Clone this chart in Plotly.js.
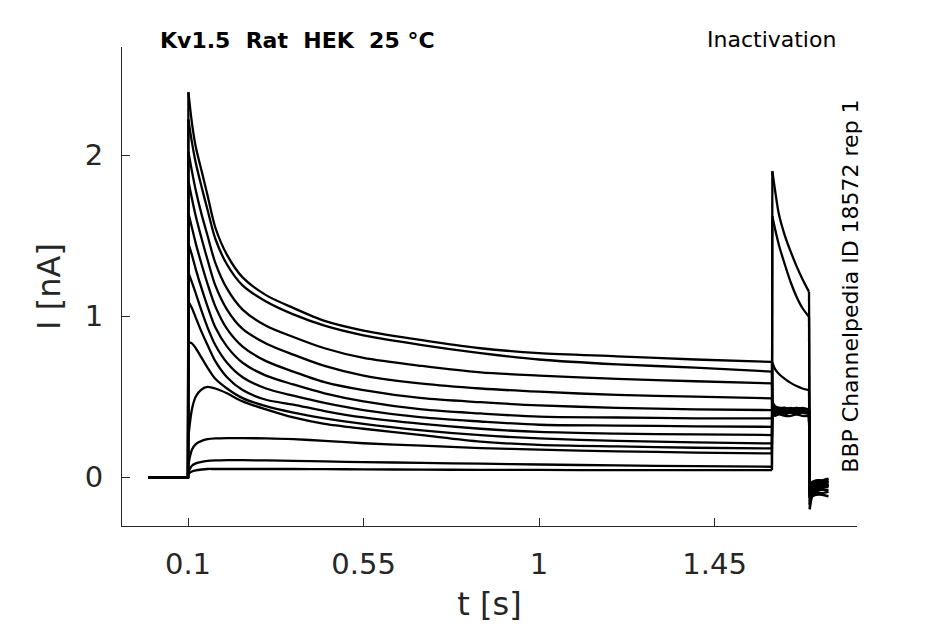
<!DOCTYPE html>
<html>
<head>
<meta charset="utf-8">
<script src="https://cdn.plot.ly/plotly-3.0.1.min.js"></script>
<style>
  html, body { margin: 0; padding: 0; background: #fff; }
  #chart { width: 945px; height: 624px; }
</style>
</head>
<body>
<div id="chart"></div>
<script>
// Kv1.5 inactivation protocol, current traces

// holding level before the prepulse
const baseT = [-0.002, 0.1];
const baseI = [0, 0];

// prepulse (0.1 s .. 1.597 s)
const preT = [0.101, 0.11, 0.12, 0.135, 0.15, 0.17, 0.2, 0.24, 0.3, 0.37, 0.45, 0.55, 0.7, 0.85, 1.0, 1.2, 1.4, 1.597];
const pre1  = [2.39, 2.20, 2.05, 1.90, 1.75, 1.55, 1.38, 1.24, 1.13, 1.05, 0.97, 0.91, 0.85, 0.80, 0.77, 0.75, 0.73, 0.715];
const pre2  = [2.22, 2.08, 1.95, 1.80, 1.66, 1.48, 1.32, 1.19, 1.09, 1.01, 0.94, 0.88, 0.82, 0.77, 0.73, 0.70, 0.68, 0.655];
const pre3  = [2.02, 1.90, 1.78, 1.63, 1.50, 1.33, 1.17, 1.04, 0.94, 0.87, 0.80, 0.74, 0.69, 0.65, 0.63, 0.61, 0.595, 0.582];
const pre4  = [1.84, 1.73, 1.62, 1.48, 1.35, 1.19, 1.04, 0.92, 0.83, 0.76, 0.69, 0.63, 0.58, 0.55, 0.53, 0.51, 0.50, 0.489];
const pre5  = [1.64, 1.55, 1.45, 1.32, 1.20, 1.06, 0.92, 0.81, 0.72, 0.655, 0.59, 0.54, 0.49, 0.465, 0.445, 0.43, 0.42, 0.416];
const pre6  = [1.45, 1.38, 1.29, 1.17, 1.06, 0.93, 0.81, 0.71, 0.63, 0.575, 0.52, 0.47, 0.42, 0.395, 0.375, 0.37, 0.365, 0.364];
const pre7  = [1.27, 1.21, 1.14, 1.03, 0.93, 0.82, 0.71, 0.62, 0.55, 0.505, 0.46, 0.415, 0.37, 0.345, 0.325, 0.32, 0.315, 0.312];
const pre8  = [1.09, 1.05, 0.99, 0.90, 0.82, 0.72, 0.62, 0.54, 0.48, 0.45, 0.41, 0.37, 0.33, 0.30, 0.28, 0.27, 0.265, 0.261];
const pre9  = [0.84, 0.83, 0.80, 0.74, 0.68, 0.61, 0.55, 0.49, 0.44, 0.40, 0.365, 0.33, 0.29, 0.26, 0.24, 0.225, 0.215, 0.209];
const pre10 = [0.25, 0.42, 0.50, 0.545, 0.56, 0.55, 0.52, 0.47, 0.42, 0.37, 0.33, 0.30, 0.26, 0.22, 0.20, 0.19, 0.182, 0.178];
const pre11 = [0.08, 0.17, 0.205, 0.225, 0.235, 0.24, 0.242, 0.242, 0.24, 0.235, 0.225, 0.21, 0.195, 0.18, 0.17, 0.16, 0.152, 0.147];
const pre12 = [0.03, 0.07, 0.085, 0.095, 0.10, 0.103, 0.105, 0.105, 0.103, 0.10, 0.097, 0.093, 0.088, 0.083, 0.078, 0.072, 0.068, 0.064];
const pre13 = [0.02, 0.035, 0.042, 0.047, 0.05, 0.05, 0.05, 0.05, 0.05, 0.05, 0.049, 0.048, 0.046, 0.045, 0.044, 0.043, 0.043, 0.043];

// test pulse (1.598 s .. 1.692 s)
const testT = [1.598, 1.605, 1.615, 1.63, 1.645, 1.66, 1.675, 1.692];
const test1  = [0.40, 0.39, 0.40, 0.39, 0.40, 0.39, 0.40, 0.39];
const test2  = [0.42, 0.41, 0.41, 0.42, 0.41, 0.41, 0.42, 0.41];
const test3  = [0.39, 0.38, 0.39, 0.38, 0.38, 0.39, 0.38, 0.38];
const test4  = [0.43, 0.42, 0.42, 0.41, 0.42, 0.42, 0.41, 0.42];
const test5  = [0.41, 0.40, 0.40, 0.41, 0.40, 0.40, 0.41, 0.40];
const test6  = [0.44, 0.43, 0.42, 0.43, 0.42, 0.43, 0.42, 0.42];
const test7  = [0.40, 0.41, 0.40, 0.40, 0.41, 0.40, 0.40, 0.41];
const test8  = [0.45, 0.43, 0.43, 0.42, 0.43, 0.42, 0.43, 0.42];
const test9  = [0.43, 0.42, 0.41, 0.42, 0.41, 0.42, 0.41, 0.41];
const test10 = [0.47, 0.44, 0.43, 0.43, 0.42, 0.43, 0.42, 0.42];
const test11 = [0.71, 0.67, 0.64, 0.61, 0.585, 0.565, 0.55, 0.54];
const test12 = [1.62, 1.54, 1.44, 1.32, 1.21, 1.12, 1.05, 0.995];
const test13 = [1.90, 1.78, 1.63, 1.50, 1.40, 1.31, 1.23, 1.15];

// tail after the test pulse (1.694 s .. 1.742 s)
const tailT = [1.694, 1.70, 1.71, 1.725, 1.742];
const tail1  = [-0.08, -0.06, -0.05, -0.04, -0.03];
const tail2  = [-0.10, -0.08, -0.06, -0.05, -0.04];
const tail3  = [-0.06, -0.04, -0.03, -0.02, -0.02];
const tail4  = [-0.11, -0.09, -0.08, -0.07, -0.06];
const tail5  = [-0.07, -0.05, -0.04, -0.03, -0.03];
const tail6  = [-0.12, -0.10, -0.09, -0.08, -0.08];
const tail7  = [-0.05, -0.03, -0.02, -0.02, -0.01];
const tail8  = [-0.13, -0.11, -0.10, -0.10, -0.09];
const tail9  = [-0.09, -0.07, -0.06, -0.05, -0.05];
const tail10 = [-0.13, -0.12, -0.11, -0.11, -0.12];
const tail11 = [-0.12, -0.09, -0.07, -0.06, -0.05];
const tail12 = [-0.17, -0.11, -0.08, -0.06, -0.05];
const tail13 = [-0.20, -0.12, -0.08, -0.06, -0.05];

const preSets  = [pre1, pre2, pre3, pre4, pre5, pre6, pre7, pre8, pre9, pre10, pre11, pre12, pre13];
const testSets = [test1, test2, test3, test4, test5, test6, test7, test8, test9, test10, test11, test12, test13];
const tailSets = [tail1, tail2, tail3, tail4, tail5, tail6, tail7, tail8, tail9, tail10, tail11, tail12, tail13];

const xTicks = [0.1, 0.55, 1, 1.45];
const xTickText = ['0.1', '0.55', '1', '1.45'];
const yTicks = [0, 1, 2];
const yTickText = ['0', '1', '2'];

const axisGrey = '#262626';
const font = 'DejaVu Sans, sans-serif';
const last = a => a[a.length - 1];

// each sweep: straight voltage-step jumps, smooth curves in between
function piece(x, y, shape) {
  return {
    x: x, y: y, mode: 'lines',
    line: shape === 'spline'
      ? { color: '#000', width: 2.3, shape: 'spline', smoothing: 0.8 }
      : { color: '#000', width: 2.3 },
    hoverinfo: 'skip', showlegend: false
  };
}

const data = [];
preSets.forEach((pre, k) => {
  const test = testSets[k], tail = tailSets[k];
  data.push(piece(baseT.concat(preT[0]), baseI.concat(pre[0]), 'linear'));
  data.push(piece(preT, pre, 'spline'));
  data.push(piece([last(preT), testT[0]], [last(pre), test[0]], 'linear'));
  data.push(piece(testT, test, 'spline'));
  data.push(piece([last(testT), tailT[0]], [last(test), tail[0]], 'linear'));
  data.push(piece(tailT, tail, 'spline'));
});

const nb = '\u00a0\u00a0';

const layout = {
  width: 945,
  height: 624,
  paper_bgcolor: '#fff',
  plot_bgcolor: '#fff',
  margin: { l: 122, r: 88, t: 47, b: 98 },
  showlegend: false,
  xaxis: {
    range: [-0.0692, 1.815],
    tickvals: xTicks,
    ticktext: xTickText,
    ticks: 'inside',
    ticklen: 8,
    tickcolor: axisGrey,
    ticklabelstandoff: 12,
    showline: true,
    linecolor: axisGrey,
    linewidth: 1,
    showgrid: false,
    zeroline: false,
    tickfont: { family: font, size: 29, color: axisGrey },
    title: { text: 't [s]', font: { family: font, size: 32, color: axisGrey }, standoff: 12 }
  },
  yaxis: {
    range: [-0.304, 2.671],
    tickvals: yTicks,
    ticktext: yTickText,
    ticks: 'inside',
    ticklen: 8,
    tickcolor: axisGrey,
    ticklabelstandoff: 12,
    showline: true,
    linecolor: axisGrey,
    linewidth: 1,
    showgrid: false,
    zeroline: false,
    tickfont: { family: font, size: 29, color: axisGrey },
    title: { text: 'I [nA]', font: { family: font, size: 32, color: axisGrey }, standoff: 14 }
  },
  annotations: [
    {
      xref: 'paper', yref: 'paper', x: 0.049, y: 1.0146,
      xanchor: 'left', yanchor: 'middle', showarrow: false,
      text: '<b>Kv1.5' + nb + 'Rat' + nb + 'HEK' + nb + '25 °C</b>',
      font: { family: font, size: 22, color: '#000' }
    },
    {
      xref: 'paper', yref: 'paper', x: 0.974, y: 1.0167,
      xanchor: 'right', yanchor: 'middle', showarrow: false,
      text: 'Inactivation',
      font: { family: font, size: 22, color: '#000' }
    },
    {
      xref: 'paper', yref: 'paper', x: 0.990, y: 0.501,
      xanchor: 'center', yanchor: 'middle', showarrow: false,
      textangle: -90,
      text: 'BBP Channelpedia ID 18572 rep 1',
      font: { family: font, size: 22, color: '#000' }
    }
  ]
};

Plotly.newPlot('chart', data, layout, { staticPlot: true, displayModeBar: false });
</script>
</body>
</html>
